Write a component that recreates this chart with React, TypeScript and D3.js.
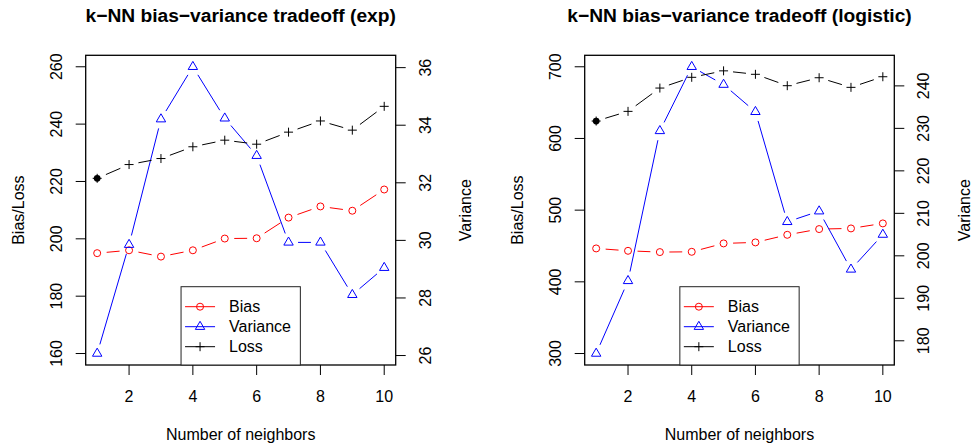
import * as d3 from "d3";
import React from "react";

const neighbors = [1, 2, 3, 4, 5, 6, 7, 8, 9, 10];
const xTicks = [2, 4, 6, 8, 10];

// exp panel
const expBias = [195.0, 196.0, 193.8, 196.0, 200.1, 200.2, 207.4, 211.3, 209.8, 217.2];
const expLoss = [221.1, 225.9, 228.0, 232.1, 234.4, 233.0, 237.2, 241.1, 237.9, 246.2];
const expVariance = [26.07, 29.85, 34.21, 36.03, 34.24, 32.94, 29.93, 29.93, 28.11, 29.05];
const expLim = [160, 260];
const expLeftTicks = [160, 180, 200, 220, 240, 260];
const expRightTicks = [26, 28, 30, 32, 34, 36];

// logistic panel
const logBias = [446.6, 443.3, 441.5, 441.9, 453.6, 455.0, 465.6, 473.6, 474.5, 481.5];
const logLoss = [624.3, 637.8, 670.3, 685.3, 694.3, 689.5, 673.6, 684.7, 671.3, 686.1];
const logVariance = [177.0, 194.1, 229.4, 244.5, 240.3, 233.9, 208.0, 210.5, 196.8, 205.0];
const logLim = [300, 700];
const logLeftTicks = [300, 400, 500, 600, 700];
const logRightTicks = [180, 190, 200, 210, 220, 230, 240];

const legendItems = ["Bias", "Variance", "Loss"];

const FONT = "'Liberation Sans', Arial, Helvetica, sans-serif";
const RED = "#FF0000";
const BLUE = "#0000FF";
const GAP = 9.5;

// R-style 4% axis expansion
const expand = ([a, b]: number[]) => {
  const d = (b - a) * 0.04;
  return [a - d, b + d];
};

function Marker({ kind, x, y, color }: { kind: string; x: number; y: number; color: string }) {
  if (kind === "circle") return <circle cx={x} cy={y} r={3.5} fill="none" stroke={color} strokeWidth={1} />;
  if (kind === "triangle")
    return (
      <polygon
        points={`${x},${y - 5.4} ${x + 4.7},${y + 2.7} ${x - 4.7},${y + 2.7}`}
        fill="none"
        stroke={color}
        strokeWidth={1}
      />
    );
  return (
    <path d={`M${x - 4.5},${y}H${x + 4.5}M${x},${y - 4.5}V${y + 4.5}`} stroke={color} strokeWidth={1} />
  );
}

// type="b": points with gapped connecting segments
function Series({ pts, kind, color }: { pts: [number, number][]; kind: string; color: string }) {
  const segs: string[] = [];
  for (let i = 0; i < pts.length - 1; i++) {
    const [x0, y0] = pts[i];
    const [x1, y1] = pts[i + 1];
    const len = Math.hypot(x1 - x0, y1 - y0);
    if (len <= GAP * 2) continue;
    const ux = (x1 - x0) / len, uy = (y1 - y0) / len;
    segs.push(`M${x0 + ux * GAP},${y0 + uy * GAP}L${x1 - ux * GAP},${y1 - uy * GAP}`);
  }
  return (
    <g>
      <path d={segs.join("")} stroke={color} fill="none" strokeWidth={1} />
      {pts.map(([x, y], i) => (
        <Marker key={i} kind={kind} x={x} y={y} color={color} />
      ))}
    </g>
  );
}

type PanelT = {
  title: string;
  left: number;
  right: number;
  bias: number[];
  loss: number[];
  variance: number[];
  lim: number[];
  leftTicks: number[];
  rightTicks: number[];
};

function Panel({ title, left, right, bias, loss, variance, lim, leftTicks, rightTicks }: PanelT) {
  const top = 55.3, bottom = 365;
  const x = d3.scaleLinear().domain(expand([1, 10])).range([left, right]);
  const y = d3.scaleLinear().domain(expand(lim)).range([bottom, top]);
  const yv = d3.scaleLinear().domain(expand(d3.extent(variance) as number[])).range([bottom, top]);
  const midY = (top + bottom) / 2;
  const midX = (left + right) / 2;
  const best = d3.minIndex(loss);

  const legW = 119.3, legH = 78.3;
  const legX = midX - legW / 2, legY = bottom - legH;
  const legKinds = [
    { kind: "circle", color: RED },
    { kind: "triangle", color: BLUE },
    { kind: "plus", color: "#000" },
  ];

  return (
    <g fontFamily={FONT}>
      <text x={midX} y={22} textAnchor="middle" fontWeight="bold" fontSize={19.2}>
        {title}
      </text>
      <Series pts={neighbors.map((k, i) => [x(k), y(bias[i])] as [number, number])} kind="circle" color={RED} />
      <Series pts={neighbors.map((k, i) => [x(k), yv(variance[i])] as [number, number])} kind="triangle" color={BLUE} />
      <Series pts={neighbors.map((k, i) => [x(k), y(loss[i])] as [number, number])} kind="plus" color="#000" />
      <circle cx={x(neighbors[best])} cy={y(loss[best])} r={3.4} fill="#000" />

      <rect x={left} y={top} width={right - left} height={bottom - top} fill="none" stroke="#000" strokeWidth={1.3} />

      {xTicks.map((t) => (
        <g key={t}>
          <line x1={x(t)} x2={x(t)} y1={bottom} y2={bottom + 10} stroke="#000" />
          <text x={x(t)} y={401.5} textAnchor="middle" fontSize={16}>
            {t}
          </text>
        </g>
      ))}
      {leftTicks.map((t) => (
        <g key={t}>
          <line x1={left - 10} x2={left} y1={y(t)} y2={y(t)} stroke="#000" />
          <text
            transform={`translate(${left - 29},${y(t)}) rotate(-90)`}
            textAnchor="middle"
            dy="0.35em"
            fontSize={16}
          >
            {t}
          </text>
        </g>
      ))}
      {rightTicks.map((t) => (
        <g key={t}>
          <line x1={right} x2={right + 10} y1={yv(t)} y2={yv(t)} stroke="#000" />
          <text
            transform={`translate(${right + 29.5},${yv(t)}) rotate(-90)`}
            textAnchor="middle"
            dy="0.35em"
            fontSize={16}
          >
            {t}
          </text>
        </g>
      ))}

      <text x={midX} y={440} textAnchor="middle" fontSize={16}>
        Number of neighbors
      </text>
      <text transform={`translate(${left - 67.5},${midY}) rotate(-90)`} textAnchor="middle" dy="0.35em" fontSize={16}>
        Bias/Loss
      </text>
      <text transform={`translate(${right + 70},${midY}) rotate(-90)`} textAnchor="middle" dy="0.35em" fontSize={16}>
        Variance
      </text>

      <rect x={legX} y={legY} width={legW} height={legH} fill="#fff" stroke="#222" strokeWidth={1} />
      {legendItems.map((name, i) => {
        const ly = legY + 20 + i * 20;
        return (
          <g key={name}>
            <line x1={legX + 4} x2={legX + 34} y1={ly} y2={ly} stroke={legKinds[i].color} />
            <Marker kind={legKinds[i].kind} x={legX + 19} y={ly} color={legKinds[i].color} />
            <text x={legX + 48} y={ly} dy="0.35em" fontSize={16}>
              {name}
            </text>
          </g>
        );
      })}
    </g>
  );
}

export default function App() {
  return (
    <svg width={972} height={443} style={{ position: "absolute", left: 0, top: 0, background: "#fff" }}>
      <Panel
        title="k−NN bias−variance tradeoff (exp)"
        left={85.7}
        right={395.7}
        bias={expBias}
        loss={expLoss}
        variance={expVariance}
        lim={expLim}
        leftTicks={expLeftTicks}
        rightTicks={expRightTicks}
      />
      <Panel
        title="k−NN bias−variance tradeoff (logistic)"
        left={584.7}
        right={894.3}
        bias={logBias}
        loss={logLoss}
        variance={logVariance}
        lim={logLim}
        leftTicks={logLeftTicks}
        rightTicks={logRightTicks}
      />
    </svg>
  );
}
